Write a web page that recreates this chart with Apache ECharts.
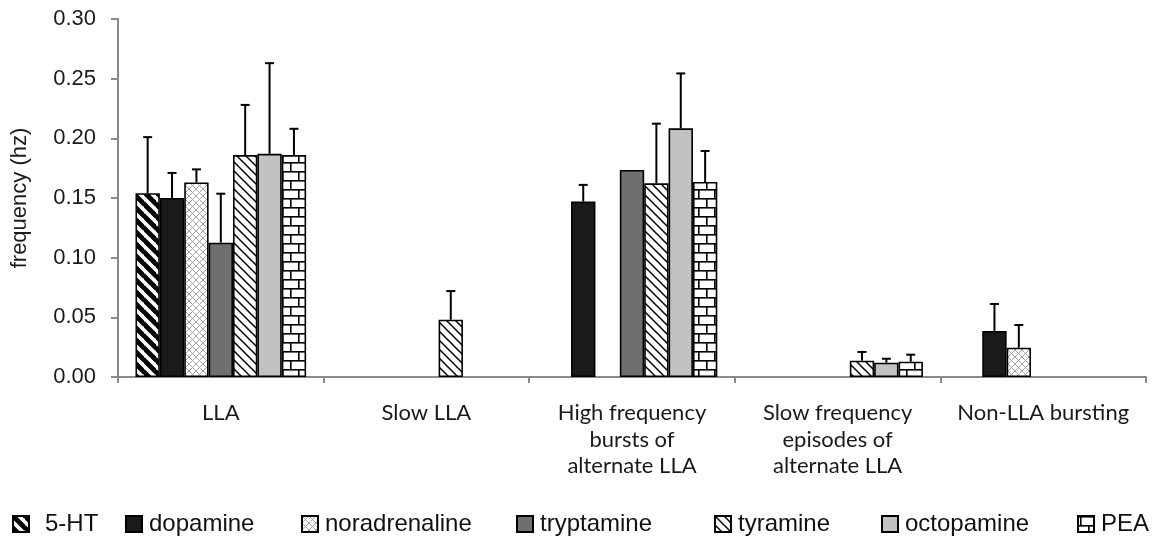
<!DOCTYPE html>
<html>
<head>
<meta charset="utf-8">
<script src="https://cdn.jsdelivr.net/npm/echarts@6/dist/echarts.min.js"></script>
<style>
html,body{margin:0;padding:0;background:#fff;}
#chart{width:1155px;height:543px;}
</style>
</head>
<body>
<div id="chart"></div>
<script>
// ---- data ----
const categories = ['LLA', 'Slow LLA', 'High frequency\nbursts of\nalternate LLA', 'Slow frequency\nepisodes of\nalternate LLA', 'Non-LLA bursting'];
const seriesNames = ['5-HT', 'dopamine', 'noradrenaline', 'tryptamine', 'tyramine', 'octopamine', 'PEA'];
const ht5 = [0.154, null, null, null, null];
const ht5Err = [0.047, null, null, null, null];
const dopamine = [0.150, null, 0.147, null, 0.0386];
const dopamineErr = [0.021, null, 0.014, null, 0.0226];
const noradrenaline = [0.163, null, null, null, 0.0246];
const noradrenalineErr = [0.011, null, null, null, 0.019];
const tryptamine = [0.1126, null, 0.1735, null, null];
const tryptamineErr = [0.041, null, 0, null, null];
const tyramine = [0.186, 0.048, 0.1623, 0.0137, null];
const tyramineErr = [0.042, 0.024, 0.050, 0.0073, null];
const octopamine = [0.187, null, 0.2084, 0.012, null];
const octopamineErr = [0.076, null, 0.046, 0.0033, null];
const pea = [0.186, null, 0.1634, 0.0128, null];
const peaErr = [0.022, null, 0.026, 0.0059, null];
const yTicks = { min: 0, max: 0.30, interval: 0.05 };

const values = [ht5, dopamine, noradrenaline, tryptamine, tyramine, octopamine, pea];
const errors = [ht5Err, dopamineErr, noradrenalineErr, tryptamineErr, tyramineErr, octopamineErr, peaErr];

// ---- patterns ----
function diagPattern(size, width, fg, bg) {
  const c = document.createElement('canvas');
  c.width = size; c.height = size;
  const g = c.getContext('2d');
  g.fillStyle = bg; g.fillRect(0, 0, size, size);
  g.strokeStyle = fg; g.lineWidth = width;
  for (let k = -1; k <= 1; k++) {
    g.beginPath();
    g.moveTo(-1, k * size - 1);
    g.lineTo(size + 1, size + k * size + 1);
    g.stroke();
  }
  return { image: c, repeat: 'repeat' };
}
function crossPattern(size, width, fg, bg) {
  const c = document.createElement('canvas');
  c.width = size; c.height = size;
  const g = c.getContext('2d');
  g.fillStyle = bg; g.fillRect(0, 0, size, size);
  g.strokeStyle = fg; g.lineWidth = width;
  for (let k = -1; k <= 1; k++) {
    g.beginPath(); g.moveTo(-1, k * size - 1); g.lineTo(size + 1, size + k * size + 1); g.stroke();
    g.beginPath(); g.moveTo(-1, size - k * size + 1); g.lineTo(size + 1, -k * size - 1); g.stroke();
  }
  return { image: c, repeat: 'repeat' };
}
function brickPattern(w, h, width, fg, bg) {
  const c = document.createElement('canvas');
  c.width = w; c.height = h * 2;
  const g = c.getContext('2d');
  g.fillStyle = bg; g.fillRect(0, 0, w, h * 2);
  g.fillStyle = fg;
  g.fillRect(0, 0, w, width);
  g.fillRect(0, h, w, width);
  g.fillRect(2, 0, width, h);
  g.fillRect(2 + w / 2, h, width, h);
  return { image: c, repeat: 'repeat' };
}

const fills = [
  diagPattern(12, 4.8, '#000', '#fff'),
  '#1c1a19',
  crossPattern(7, 0.9, '#9a9a9a', '#fff'),
  '#6f6f6f',
  diagPattern(9, 1.5, '#000', '#fff'),
  '#c2c2c2',
  brickPattern(16, 9, 1.6, '#000', '#fff')
];

const CAT_GAP = 0.17;
const barSeries = seriesNames.map((name, i) => ({
  name: name,
  type: 'bar',
  data: values[i],
  barGap: 0,
  barCategoryGap: (CAT_GAP * 100) + '%',
  itemStyle: { color: fills[i], borderColor: '#000', borderWidth: 1.6 },
  emphasis: { disabled: true },
  z: 2
}));

const errData = [];
values.forEach((arr, si) => {
  arr.forEach((v, ci) => {
    if (v != null && errors[si][ci]) errData.push([ci, si, v, errors[si][ci]]);
  });
});

const errSeries = {
  type: 'custom',
  name: 'err',
  data: errData,
  encode: { x: 0, y: 2 },
  z: 5,
  silent: true,
  renderItem: function (params, api) {
    const ci = api.value(0), si = api.value(1), v = api.value(2), e = api.value(3);
    const bandW = api.size([1, 0])[0];
    const usable = bandW * (1 - CAT_GAP);
    const bw = usable / seriesNames.length;
    const base = api.coord([ci, v]);
    const x = base[0] - usable / 2 + (si + 0.5) * bw;
    const top = api.coord([ci, v + e])[1];
    const st = { stroke: '#000', lineWidth: 2 };
    return {
      type: 'group',
      children: [
        { type: 'line', shape: { x1: x, y1: base[1], x2: x, y2: top }, style: st },
        { type: 'line', shape: { x1: x - 4.5, y1: top, x2: x + 4.5, y2: top }, style: st }
      ]
    };
  }
};

const legendLefts = [7, 120, 296, 511, 709, 876, 1072];
const legends = seriesNames.map((n, i) => ({
  data: [n],
  left: legendLefts[i],
  top: 507,
  icon: 'rect',
  itemWidth: 16,
  itemHeight: 16,
  itemGap: 5,
  selectedMode: false,
  textStyle: { fontFamily: 'Liberation Sans', fontSize: 24, color: '#111', padding: [0, 0, 0, i === 0 ? 11 : 2] }
}));

const chart = echarts.init(document.getElementById('chart'), null, { renderer: 'canvas' });
chart.setOption({
  animation: false,
  backgroundColor: '#fff',
  grid: { left: 118, right: 9, top: 19, bottom: 166, containLabel: false },
  legend: legends,
  xAxis: {
    type: 'category',
    data: categories,
    axisLine: { lineStyle: { color: '#8a8a8a', width: 2 } },
    axisTick: { show: true, length: 6, lineStyle: { color: '#8a8a8a', width: 2 } },
    axisLabel: { interval: 0, margin: 23, fontFamily: 'Lato', fontSize: 22, color: '#1a1a1a', lineHeight: 26.5 },
    splitLine: { show: false }
  },
  yAxis: {
    type: 'value',
    min: yTicks.min,
    max: yTicks.max,
    interval: yTicks.interval,
    name: 'frequency (hz)',
    nameLocation: 'middle',
    nameRotate: 90,
    nameGap: 87,
    nameTextStyle: { fontFamily: 'Liberation Sans', fontSize: 22, color: '#1a1a1a' },
    axisLine: { show: true, lineStyle: { color: '#8a8a8a', width: 2 } },
    axisTick: { show: true, length: 7, lineStyle: { color: '#8a8a8a', width: 2 } },
    axisLabel: { margin: 22, fontFamily: 'Liberation Sans', fontSize: 22, color: '#1a1a1a', formatter: v => v.toFixed(2) },
    splitLine: { show: false }
  },
  series: barSeries.concat([errSeries])
});
</script>
</body>
</html>
